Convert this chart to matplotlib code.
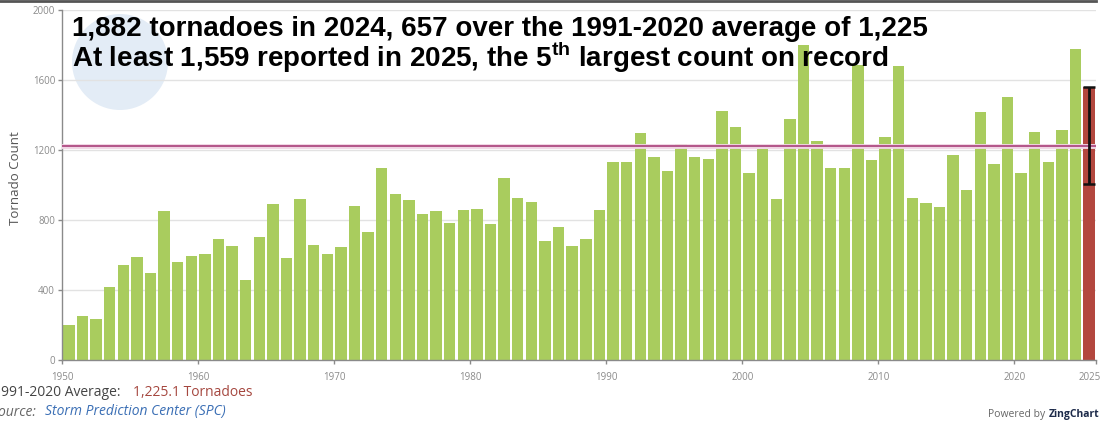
import matplotlib
matplotlib.use("Agg")
import matplotlib.pyplot as plt
from matplotlib.patches import Ellipse
from matplotlib.lines import Line2D
from matplotlib.transforms import ScaledTranslation
import numpy as np

# ---------------- data ----------------
years = list(range(1950, 2025))
counts = [200, 253, 234, 419, 543, 587, 499, 851, 558, 596,
          608, 691, 651, 455, 701, 893, 581, 920, 657, 604,
          648, 882, 733, 1095, 947, 916, 832, 849, 783, 855,
          861, 777, 1042, 926, 905, 680, 762, 653, 689, 855,
          1133, 1130, 1296, 1162, 1080, 1232, 1162, 1147, 1421, 1331,
          1069, 1204, 922, 1375, 1802, 1250, 1099, 1095, 1688, 1141,
          1276, 1682, 926, 895, 876, 1172, 969, 1419, 1120, 1505,
          1069, 1303, 1133, 1314, 1779]
year_2025 = 2025
count_2025 = 1559
err_low_2025 = 1004
err_high_2025 = 1559
average = 1225.1
y_ticks = [0, 400, 800, 1200, 1600, 2000]
x_tick_years = [1950, 1960, 1970, 1980, 1990, 2000, 2010, 2020]
x_tick_labels = ["1950", "1960", "1970", "1980", "1990", "2000", "2010", "2020", "2025"]
title_1 = "1,882 tornadoes in 2024, 657 over the 1991-2020 average of 1,225"
title_2 = r"At least 1,559 reported in 2025, the 5$^{\mathbf{th}}$ largest count on record"

# ---------------- style ----------------
plt.rcParams['mathtext.fontset'] = 'custom'
plt.rcParams['mathtext.bf'] = 'Liberation Sans:bold'
plt.rcParams['mathtext.rm'] = 'Liberation Sans:bold'

W, H = 1101, 421
fig = plt.figure(figsize=(W / 100, H / 100), dpi=100)
fig.patch.set_facecolor('white')

def fx(px):
    return px / W

def fy(py):
    return 1 - py / H

ax = fig.add_axes([fx(62), fy(360), fx(1096) - fx(62), (360 - 10) / H])
ax.patch.set_alpha(0)

# NOAA-like faint watermark (logo image in the original)
fig.patches.append(Ellipse((fx(120), fy(62)), 96 / W, 96 / H, transform=fig.transFigure,
                           facecolor='#e3ecf6', edgecolor='none', zorder=-5))

green = '#a9cc5e'
red = '#b3473e'

ax.bar(np.array(years) + 0.5, counts, width=0.84, color=green, zorder=2)
ax.bar([year_2025 + 0.5], [count_2025], width=0.9, color=red, zorder=2)
ax.errorbar([year_2025 + 0.5], [(err_low_2025 + err_high_2025) / 2],
            yerr=[[(err_high_2025 - err_low_2025) / 2], [(err_high_2025 - err_low_2025) / 2]],
            fmt='none', ecolor='#111111', elinewidth=2, capsize=4.5, capthick=1.8, zorder=4)

# average line
ax.axhline(average, color='#f0d4e4', lw=3.5, zorder=3)
ax.axhline(average, color='#a8407a', lw=1.2, zorder=3.1)

ax.set_xlim(1950, 2026)
ax.set_ylim(0, 2000)
ax.set_yticks(y_ticks)
ax.set_yticklabels([str(v) for v in y_ticks], family='Open Sans')
ax.set_xticks(x_tick_years + [2026])
ax.set_xticklabels(x_tick_labels, family='Open Sans')
ax.grid(axis='y', color='#e2e2e2', lw=1, zorder=0)
ax.set_axisbelow(True)
for s in ['top', 'right']:
    ax.spines[s].set_visible(False)
for s in ['left', 'bottom']:
    ax.spines[s].set_color('#8a8a8a')
    ax.spines[s].set_linewidth(1)
ax.tick_params(axis='both', colors='#8a8a8a', labelsize=7, length=3, width=1,
               labelcolor='#8a8a8a')
ax.tick_params(axis='x', pad=6)
ax.tick_params(axis='y', pad=2)
last = ax.get_xticklabels()[-1]
last.set_ha('right')
last.set_transform(last.get_transform() + ScaledTranslation(5 / 100, 0, fig.dpi_scale_trans))

fig.text(fx(16), fy(178), "Tornado Count", fontsize=9.5, color='#555555', family='Open Sans',
         rotation=90, ha='center', va='center')

# titles
fig.text(fx(72), fy(36), title_1, fontsize=20, fontweight='bold', family='Liberation Sans',
         color='black', ha='left', va='baseline', zorder=10)
fig.text(fx(72), fy(67), title_2, fontsize=20, fontweight='bold', family='Liberation Sans',
         color='black', ha='left', va='baseline', zorder=10)

# footer texts
fig.text(fx(-7), fy(393), "1991-2020 Average:", fontsize=10, family='Open Sans',
         color='#444444', ha='left', va='center')
fig.text(fx(133), fy(393), "1,225.1 Tornadoes", fontsize=10, family='Open Sans',
         color='#a5473f', ha='left', va='center')
fig.text(fx(-8), fy(412), "Source:", fontsize=10, family='Open Sans', style='italic',
         color='#666666', ha='left', va='center')
fig.text(fx(45), fy(412), "Storm Prediction Center (SPC)", fontsize=10, family='Open Sans',
         style='italic', color='#3b6fb5', ha='left', va='center')
fig.text(fx(988), fy(415), "Powered by", fontsize=7.5, family='Open Sans',
         color='#666666', ha='left', va='center')
fig.text(fx(1049), fy(415), "ZingChart", fontsize=7.5, family='Open Sans', fontweight='bold',
         color='#1d2b4a', ha='left', va='center')

# top border
fig.add_artist(Line2D([0, fx(1096)], [fy(1), fy(1)], transform=fig.transFigure,
                      color='#555555', lw=2))

fig.savefig("out.png", dpi=100)
